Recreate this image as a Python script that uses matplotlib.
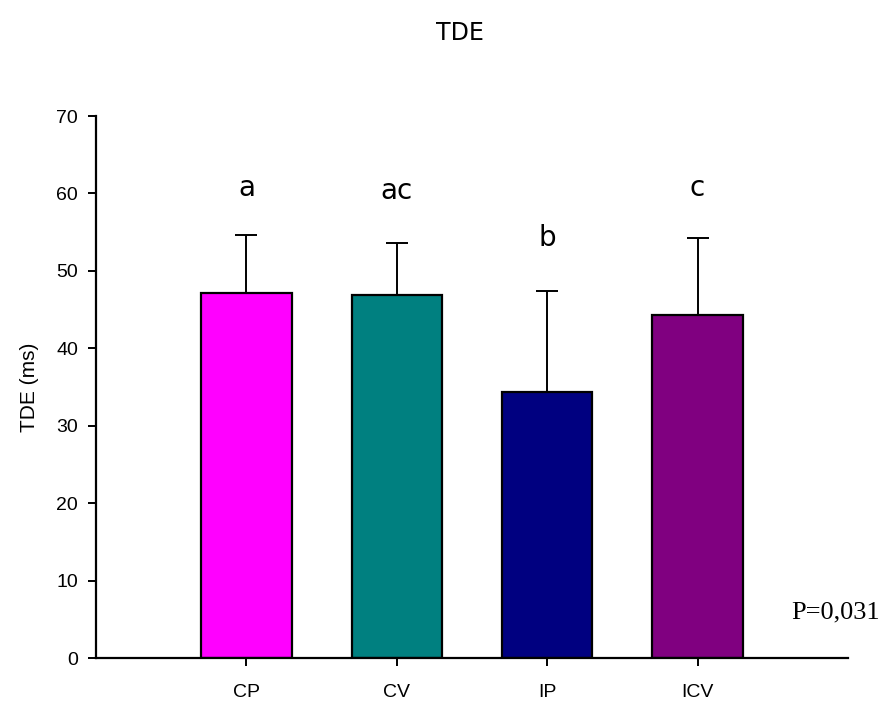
import matplotlib
matplotlib.use("Agg")
import matplotlib.pyplot as plt

categories = ["CP", "CV", "IP", "ICV"]
means = [47.1, 46.9, 34.35, 44.3]
sd = [7.55, 6.7, 13.05, 10.0]
letters = ["a", "ac", "b", "c"]
letter_y = [60.7, 60.3, 54.2, 60.7]
colors = ["#FF00FF", "#008080", "#000080", "#800080"]
yticks = [0, 10, 20, 30, 40, 50, 60, 70]

fig = plt.figure(figsize=(8.85, 7.04), dpi=100)
ax = fig.add_axes([0.1085, 0.0653, 0.8497, 0.7699])

x = list(range(1, len(categories) + 1))
ax.bar(x, means, width=0.6, color=colors, edgecolor="black", linewidth=1.6, zorder=2)
ax.errorbar(x, means, yerr=[[0] * len(sd), sd], fmt="none", ecolor="black",
            elinewidth=1.4, capsize=8, capthick=1.4, zorder=1)

for xi, lab, ly in zip(x, letters, letter_y):
    ax.text(xi, ly, lab, ha="center", va="center", fontsize=20, family="DejaVu Sans")

ax.text(4.62, 5.9, "P=0,031", ha="left", va="center", fontsize=19,
        family="Liberation Serif", clip_on=False)

ax.set_xlim(0, 5)
ax.set_ylim(0, 70)
ax.set_xticks(x)
ax.set_xticklabels(categories, family="Liberation Sans", fontsize=14)
ax.set_yticks(yticks)
ax.set_yticklabels([str(v) for v in yticks], family="Liberation Sans", fontsize=14)
ax.tick_params(axis="both", direction="out", length=6, width=1.4)
ax.tick_params(axis="y", pad=7)
ax.tick_params(axis="x", pad=13)
for s in ["top", "right"]:
    ax.spines[s].set_visible(False)
for s in ["left", "bottom"]:
    ax.spines[s].set_linewidth(1.6)

ax.set_ylabel("TDE (ms)", family="Liberation Sans", fontsize=15, labelpad=12)
fig.text(0.52, 0.953, "TDE", ha="center", va="center", fontsize=17, family="DejaVu Sans")

fig.savefig("out.png", dpi=100)
